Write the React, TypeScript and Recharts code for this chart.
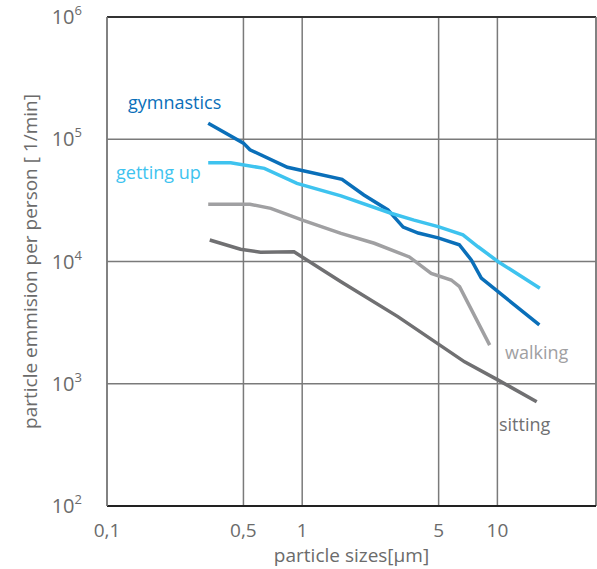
import React from "react";
import {
  LineChart,
  Line,
  XAxis,
  YAxis,
  CartesianGrid,
  ReferenceLine,
} from "recharts";

const xTicks = [0.1, 0.5, 1, 5, 10];
const yTicks = [1e2, 1e3, 1e4, 1e5, 1e6];

const gymnasticsSizes = [0.33, 0.5, 0.54, 0.84, 1.6, 2.07, 2.75, 3.29, 3.93, 4.97, 6.38, 7.35, 8.27, 16.4];
const gymnasticsValues = [135000, 93000, 82000, 59000, 47000, 35000, 26400, 19100, 17100, 15600, 13700, 10300, 7300, 3030];

const gettingUpSizes = [0.33, 0.43, 0.64, 0.94, 1.58, 2.85, 3.74, 4.97, 6.66, 7.96, 10.1, 16.5];
const gettingUpValues = [64300, 64300, 57800, 43600, 34400, 24800, 21800, 19300, 16500, 13200, 9960, 6040];

const walkingSizes = [0.33, 0.54, 0.69, 1.02, 1.58, 2.34, 3.54, 4.58, 5.8, 6.4, 9.13];
const walkingValues = [29400, 29400, 27200, 21600, 17000, 14100, 10900, 8000, 7060, 6220, 2070];

const sittingSizes = [0.336, 0.483, 0.612, 0.908, 1.58, 3.09, 6.79, 10.1, 15.9];
const sittingValues = [15000, 12600, 11900, 12000, 6840, 3540, 1510, 1070, 713];

const zip = (xs: number[], ys: number[]) => xs.map((x, i) => ({ size: x, value: ys[i] }));

const series = [
  { name: "gymnastics", data: zip(gymnasticsSizes, gymnasticsValues), color: "#0a6fb9", label: { x: 128, y: 109 } },
  { name: "getting up", data: zip(gettingUpSizes, gettingUpValues), color: "#3ec3ef", label: { x: 116, y: 179 } },
  { name: "walking", data: zip(walkingSizes, walkingValues), color: "#a0a0a2", label: { x: 505, y: 359 } },
  { name: "sitting", data: zip(sittingSizes, sittingValues), color: "#707072", label: { x: 499, y: 431 } },
];

const font = "'Open Sans', 'Noto Sans', sans-serif";
const textColor = "#6b6b6b";

const YTick = (props: any) => {
  const { x, y, payload } = props;
  const exp = Math.round(Math.log10(payload.value));
  return (
    <text x={x - 17} y={y + 7} textAnchor="end" fill={textColor} fontSize={20} fontFamily={font}>
      10
      <tspan dy={-9} fontSize={13}>{exp}</tspan>
    </text>
  );
};

const XTick = (props: any) => {
  const { x, y, payload } = props;
  return (
    <text x={x} y={y + 23} textAnchor="middle" fill={textColor} fontSize={19} fontFamily={font}>
      {String(payload.value).replace(".", ",")}
    </text>
  );
};

export default function App() {
  return (
    <div style={{ position: "absolute", left: 0, top: 0 }}>
      <LineChart
        width={597}
        height={569}
        margin={{ top: 17, right: 1, bottom: 23, left: 47 }}
      >
        <CartesianGrid stroke="#7a7a7a" strokeWidth={1.5} />
        <XAxis
          dataKey="size"
          type="number"
          scale="log"
          domain={[0.1, 32]}
          ticks={xTicks}
          allowDataOverflow
          tickLine={false}
          axisLine={{ stroke: "#222", strokeWidth: 2 }}
          height={40}
          tick={<XTick />}
          label={{
            value: "particle sizes[µm]",
            position: "insideBottom",
            offset: -16,
            fill: textColor,
            fontSize: 19,
            fontFamily: font,
            dx: 0,
          }}
        />
        <YAxis
          dataKey="value"
          type="number"
          scale="log"
          domain={[1e2, 1e6]}
          ticks={yTicks}
          allowDataOverflow
          tickLine={false}
          axisLine={{ stroke: "#7a7a7a", strokeWidth: 1.5 }}
          width={60}
          tick={<YTick />}
          label={{
            value: "particle emmision per person [ 1/min]",
            angle: -90,
            position: "insideLeft",
            offset: -17,
            fill: textColor,
            fontSize: 19,
            fontFamily: font,
            dy: 0,
            style: { textAnchor: "middle" },
          }}
        />
        <ReferenceLine y={1e6} stroke="#333" strokeWidth={2} />
        <ReferenceLine x={32} stroke="#7a7a7a" strokeWidth={1.5} />
        {series.map((s) => (
          <Line
            key={s.name}
            data={s.data}
            dataKey="value"
            name={s.name}
            stroke={s.color}
            strokeWidth={3.5}
            dot={false}
            type="linear"
            isAnimationActive={false}
          />
        ))}
      </LineChart>
      <svg width={597} height={569} style={{ position: "absolute", left: 0, top: 0, pointerEvents: "none" }}>
        {series.map((s) => (
          <text key={s.name} x={s.label.x} y={s.label.y} fill={s.color} fontSize={18} fontFamily={font}>
            {s.name}
          </text>
        ))}
      </svg>
    </div>
  );
}
